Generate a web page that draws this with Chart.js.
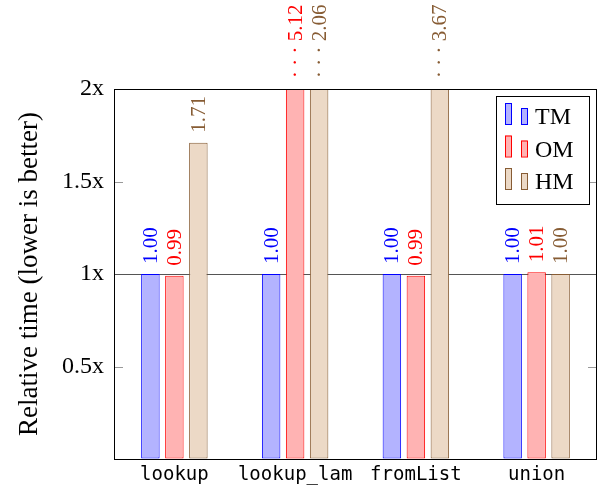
<!DOCTYPE html>
<html>
<head>
<meta charset="utf-8">
<script src="https://cdn.jsdelivr.net/npm/chart.js@4"></script>
<style>
  html, body { margin: 0; padding: 0; background: #fff; }
  #wrap { width: 608px; height: 491px; position: relative; }
</style>
</head>
<body>
<div id="wrap"><canvas id="c" width="608" height="491"></canvas></div>
<script>
const categories = ['lookup', 'lookup_lam', 'fromList', 'union'];
const seriesNames = ['TM', 'OM', 'HM'];
const tmValues = [1.00, 1.00, 1.00, 1.00];
const omValues = [0.99, 5.12, 0.99, 1.01];
const hmValues = [1.71, 2.06, 3.67, 1.00];
const yTickValues = [0.5, 1, 1.5, 2];
const yMax = 2;

const fills = ['rgb(179,179,255)', 'rgb(255,179,179)', 'rgb(236,217,198)'];
const strokes = ['rgb(0,0,255)', 'rgb(255,0,0)', 'rgb(135,92,52)'];
const SERIF = '"Liberation Serif", "DejaVu Serif", serif';
const MONO = '"DejaVu Sans Mono", "Liberation Mono", monospace';

const decorPlugin = {
  id: 'decor',
  afterDatasetsDraw(chart) {
    const { ctx, chartArea: a, scales } = chart;
    const y = scales.y;
    ctx.save();
    // inner tick marks on both sides
    ctx.strokeStyle = '#999';
    ctx.lineWidth = 1;
    yTickValues.forEach(v => {
      if (v >= yMax || v === 1) return;
      const py = Math.round(y.getPixelForValue(v)) + 0.5;
      ctx.beginPath();
      ctx.moveTo(a.left, py); ctx.lineTo(a.left + 9, py);
      ctx.moveTo(a.right - 9, py); ctx.lineTo(a.right, py);
      ctx.stroke();
    });
    // frame
    ctx.strokeStyle = '#000';
    ctx.lineWidth = 1;
    ctx.strokeRect(Math.round(a.left) + 0.5, Math.round(a.top) + 0.5,
                   Math.round(a.right - a.left) - 1, Math.round(a.bottom - a.top));

    // value labels
    ctx.font = '21px ' + SERIF;
    ctx.textAlign = 'left';
    ctx.textBaseline = 'middle';
    chart.data.datasets.forEach((ds, di) => {
      const meta = chart.getDatasetMeta(di);
      meta.data.forEach((el, i) => {
        const v = ds.data[i];
        let txt, py;
        if (v > yMax) {
          txt = '\u00B7 \u00B7 \u00B7 ' + v.toFixed(2);
          py = a.top - 11;
        } else {
          txt = v.toFixed(2);
          py = y.getPixelForValue(v) - 10;
        }
        ctx.save();
        ctx.translate(el.x, py);
        ctx.rotate(-Math.PI / 2);
        ctx.fillStyle = strokes[di];
        ctx.fillText(txt, 0, 1);
        ctx.restore();
      });
    });

    // legend
    const lx = 496.5, ly = 96.5, lw = 93, lh = 108;
    ctx.fillStyle = '#fff';
    ctx.fillRect(lx, ly, lw, lh);
    ctx.strokeStyle = '#000';
    ctx.strokeRect(lx, ly, lw, lh);
    ctx.font = '24px ' + SERIF;
    ctx.textAlign = 'left';
    ctx.textBaseline = 'alphabetic';
    chart.data.datasets.forEach((ds, di) => {
      const base = 124 + di * 32.5;
      ctx.fillStyle = fills[di];
      ctx.strokeStyle = strokes[di];
      ctx.lineWidth = 1;
      ctx.fillRect(505, base - 21, 6, 21);
      ctx.strokeRect(505.5, base - 20.5, 6, 21);
      ctx.fillRect(521, base - 16, 6, 16);
      ctx.strokeRect(521.5, base - 15.5, 6, 16);
      ctx.fillStyle = '#000';
      ctx.fillText(ds.label, 535, base);
    });
    ctx.restore();
  }
};

const datasets = [tmValues, omValues, hmValues].map((vals, i) => ({
  label: seriesNames[i],
  data: vals,
  backgroundColor: fills[i],
  borderColor: strokes[i],
  borderWidth: 1,
  borderSkipped: false,
  categoryPercentage: 0.596,
  barPercentage: 0.77
}));

new Chart(document.getElementById('c'), {
  type: 'bar',
  data: { labels: categories, datasets },
  plugins: [decorPlugin],
  options: {
    responsive: false,
    animation: false,
    devicePixelRatio: 1,
    layout: { padding: { top: 89, right: 11, left: 0, bottom: 0 } },
    plugins: { legend: { display: false }, tooltip: { enabled: false } },
    scales: {
      x: {
        grid: { display: false, drawTicks: false },
        border: { display: false },
        ticks: { font: { family: MONO, size: 19 }, color: '#000', padding: 5, maxRotation: 0 },
        afterFit: s => { s.height = 32; }
      },
      y: {
        min: 0, max: yMax,
        grid: {
          drawTicks: false,
          color: c => (c.tick && c.tick.value === 1) ? '#555' : 'rgba(0,0,0,0)',
          lineWidth: 1
        },
        border: { display: false },
        ticks: {
          stepSize: 0.5,
          padding: 10,
          color: '#000',
          font: { family: SERIF, size: 24 },
          callback: v => (v === 0 ? '' : v + 'x')
        },
        title: {
          display: true,
          text: 'Relative time (lower is better)',
          color: '#000',
          font: { family: SERIF, size: 27 },
          padding: { top: 14, bottom: 0 }
        },
        afterFit: s => { s.width = 114; }
      }
    }
  }
});
</script>
</body>
</html>
